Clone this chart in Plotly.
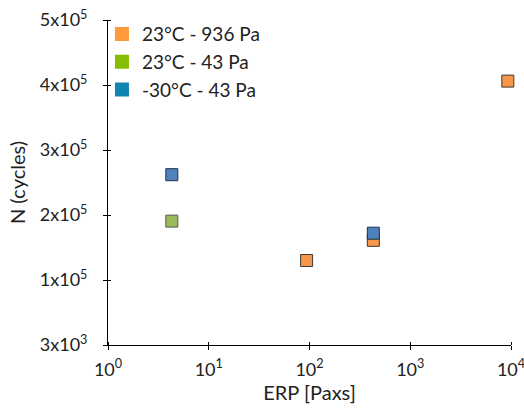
import plotly.graph_objects as go

# Data
series_names = ["23°C - 936 Pa", "23°C - 43 Pa", "-30°C - 43 Pa"]
erp_936 = [93.6, 430, 9300]
n_936 = [130000, 161000, 406000]
erp_43_warm = [4.3]
n_43_warm = [190600]
erp_43_cold = [4.3, 430]
n_43_cold = [262000, 172000]

marker_fill = ["#F79646", "#9BBB59", "#4F81BD"]
marker_edge = ["#3a3a3a", "#5a5a5a", "#1f2f45"]
legend_fill = ["#FF9A3C", "#87BD00", "#0F86B2"]

y_tickvals = [0, 100000, 200000, 300000, 400000, 500000]
y_ticktext = ["3x10<sup>3</sup>", "1x10<sup>5</sup>", "2x10<sup>5</sup>",
              "3x10<sup>5</sup>", "4x10<sup>5</sup>", "5x10<sup>5</sup>"]
x_tickvals = [1, 10, 100, 1000, 10000]
x_ticktext = ["10<sup>0</sup>", "10<sup>1</sup>", "10<sup>2</sup>",
              "10<sup>3</sup>", "10<sup>4</sup>"]

FONT = "Lato, 'Open Sans', sans-serif"

fig = go.Figure()
data = [(erp_936, n_936), (erp_43_warm, n_43_warm), (erp_43_cold, n_43_cold)]
for i, (xs, ys) in enumerate(data):
    fig.add_trace(go.Scatter(
        x=xs, y=ys, mode="markers", showlegend=False, cliponaxis=False,
        marker=dict(symbol="square", size=12, color=marker_fill[i],
                    line=dict(color=marker_edge[i], width=1)),
    ))
# legend entries
for i, name in enumerate(series_names):
    fig.add_trace(go.Scatter(
        x=[None], y=[None], mode="markers", name=name,
        legendgroup=f"g{i}",
        marker=dict(symbol="square", size=14, color=legend_fill[i],
                    line=dict(width=0)),
    ))

fig.update_layout(
    width=524, height=408,
    margin=dict(l=108, r=13, t=20, b=63, autoexpand=False),
    paper_bgcolor="white", plot_bgcolor="white",
    font=dict(family=FONT, size=18, color="#222"),
    legend=dict(x=-0.015, y=1.015, xanchor="left", yanchor="top",
                bgcolor="rgba(0,0,0,0)", font=dict(size=19, color="#222"),
                tracegroupgap=0, itemsizing="trace"),
)
fig.update_xaxes(
    type="log", range=[0, 4], automargin=False,
    tickmode="array", tickvals=x_tickvals, ticktext=x_ticktext,
    ticks="outside", ticklen=4, tickcolor="black", tickwidth=1,
    minor=dict(tickmode="array", tickvals=x_tickvals, ticks="inside",
               ticklen=3, tickcolor="black", tickwidth=1, showgrid=False),
    showline=True, linecolor="black", linewidth=1, showgrid=False,
    zeroline=False, ticklabelstandoff=4, ticklabeloverflow="allow",
    title=dict(text="ERP [Paxs]", font=dict(size=20), standoff=4),
    tickfont=dict(size=18),
)
fig.update_yaxes(
    range=[0, 500000], automargin=False,
    tickmode="array", tickvals=y_tickvals, ticktext=y_ticktext,
    ticks="outside", ticklen=4, tickcolor="black", tickwidth=1,
    minor=dict(tickmode="array", tickvals=y_tickvals, ticks="inside",
               ticklen=3, tickcolor="black", tickwidth=1, showgrid=False),
    showline=True, linecolor="black", linewidth=1, showgrid=False,
    zeroline=False, ticklabelstandoff=12, ticklabeloverflow="allow",
    title=dict(text="N (cycles)", font=dict(size=20), standoff=8),
    tickfont=dict(size=18),
)

fig.write_html("out.html", config={"displayModeBar": False},
               post_script="document.body.style.margin='0';document.body.style.overflow='hidden';")
